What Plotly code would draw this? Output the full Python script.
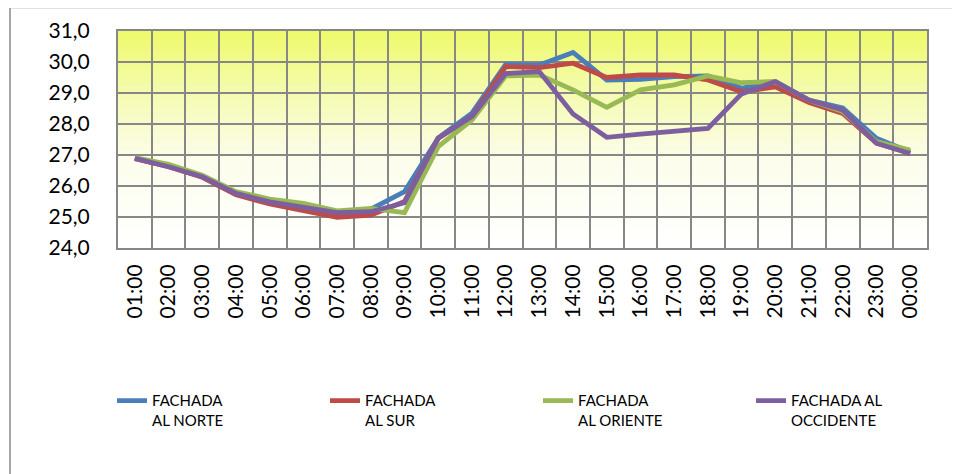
import base64
import plotly.graph_objects as go

hours = ["01:00", "02:00", "03:00", "04:00", "05:00", "06:00", "07:00", "08:00",
         "09:00", "10:00", "11:00", "12:00", "13:00", "14:00", "15:00", "16:00",
         "17:00", "18:00", "19:00", "20:00", "21:00", "22:00", "23:00", "00:00"]

norte = [26.90, 26.65, 26.30, 25.75, 25.45, 25.25, 25.05, 25.25, 25.82, 27.55, 28.35, 29.92,
         29.90, 30.31, 29.42, 29.44, 29.53, 29.55, 29.15, 29.37, 28.77, 28.52, 27.54, 27.10]
sur = [26.88, 26.62, 26.28, 25.72, 25.42, 25.22, 24.99, 25.06, 25.50, 27.54, 28.24, 29.85,
       29.82, 29.96, 29.50, 29.58, 29.58, 29.42, 29.04, 29.20, 28.69, 28.34, 27.38, 27.05]
oriente = [26.92, 26.70, 26.35, 25.82, 25.58, 25.44, 25.20, 25.28, 25.14, 27.27, 28.13, 29.55,
           29.58, 29.10, 28.54, 29.10, 29.26, 29.55, 29.33, 29.37, 28.77, 28.40, 27.43, 27.16]
occidente = [26.89, 26.62, 26.30, 25.76, 25.49, 25.33, 25.14, 25.17, 25.46, 27.54, 28.24, 29.63,
             29.69, 28.32, 27.57, 27.67, 27.75, 27.86, 28.97, 29.37, 28.77, 28.45, 27.38, 27.05]

series_names = ["FACHADA<br>AL NORTE", "FACHADA<br>AL SUR", "FACHADA<br>AL ORIENTE", "FACHADA AL<br>OCCIDENTE"]
series_values = [norte, sur, oriente, occidente]
series_colors = ["#4A7EBB", "#BE4B48", "#98B954", "#7D5FA0"]

y_ticks = [24, 25, 26, 27, 28, 29, 30, 31]
y_labels = ["24,0", "25,0", "26,0", "27,0", "28,0", "29,0", "30,0", "31,0"]

FONT = "Lato"
GRID = "#878787"

fig = go.Figure()
for name, vals, col in zip(series_names, series_values, series_colors):
    fig.add_trace(go.Scatter(x=hours, y=vals, name=name, mode="lines",
                             line=dict(color=col, width=4.8), hoverinfo="skip"))

svg = ('<svg xmlns="http://www.w3.org/2000/svg" width="100" height="100" preserveAspectRatio="none">'
       '<defs><linearGradient id="g" x1="0" y1="0" x2="0" y2="1">'
       '<stop offset="0" stop-color="#EEFA6A"/>'
       '<stop offset="0.3" stop-color="#F5FBB4"/>'
       '<stop offset="0.6" stop-color="#FCFDEC"/>'
       '<stop offset="1" stop-color="#FFFFFF"/>'
       '</linearGradient></defs>'
       '<rect x="0" y="0" width="100" height="100" fill="url(#g)"/></svg>')
src = "data:image/svg+xml;base64," + base64.b64encode(svg.encode()).decode()

# page body has an 8px margin, so the figure is sized/offset to compensate
fig.update_layout(
    width=952, height=466,
    margin=dict(l=110, r=33, t=23, b=226, autoexpand=False),
    paper_bgcolor="white", plot_bgcolor="white",
    font=dict(family=FONT, color="#000000"),
    showlegend=True,
    legend=dict(orientation="h", x=-0.0074, y=-0.628, xanchor="left", yanchor="top",
                entrywidth=168, entrywidthmode="pixels", valign="top",
                font=dict(family=FONT, size=15, color="#000000"),
                bgcolor="rgba(0,0,0,0)", traceorder="normal", itemclick=False),
    images=[dict(source=src, xref="paper", yref="paper", x=0, y=1, sizex=1, sizey=1,
                 sizing="stretch", layer="below", xanchor="left", yanchor="top")],
    shapes=[dict(type="rect", xref="paper", yref="paper", x0=-0.1335, y0=-1.06, x1=1.05, y1=1.108,
                 line=dict(color="#8A8A8A", width=1.5), fillcolor="rgba(0,0,0,0)", layer="below")],
)

fig.update_xaxes(type="category", categoryorder="array", categoryarray=hours,
                 tickson="boundaries", showgrid=True, gridcolor=GRID, gridwidth=2,
                 showline=True, linecolor=GRID, linewidth=2, mirror=True, automargin=False,
                 ticks="", tickangle=-90, tickfont=dict(family=FONT, size=21),
                 ticklabelstandoff=6, range=[-0.5, 23.5], zeroline=False)
fig.update_yaxes(range=[24, 31], tickvals=y_ticks, ticktext=y_labels, automargin=False,
                 showgrid=True, gridcolor=GRID, gridwidth=2,
                 showline=True, linecolor=GRID, linewidth=2, mirror=True,
                 ticks="", tickfont=dict(family=FONT, size=21),
                 ticklabelstandoff=22, zeroline=False)

fig.write_html("out.html")
